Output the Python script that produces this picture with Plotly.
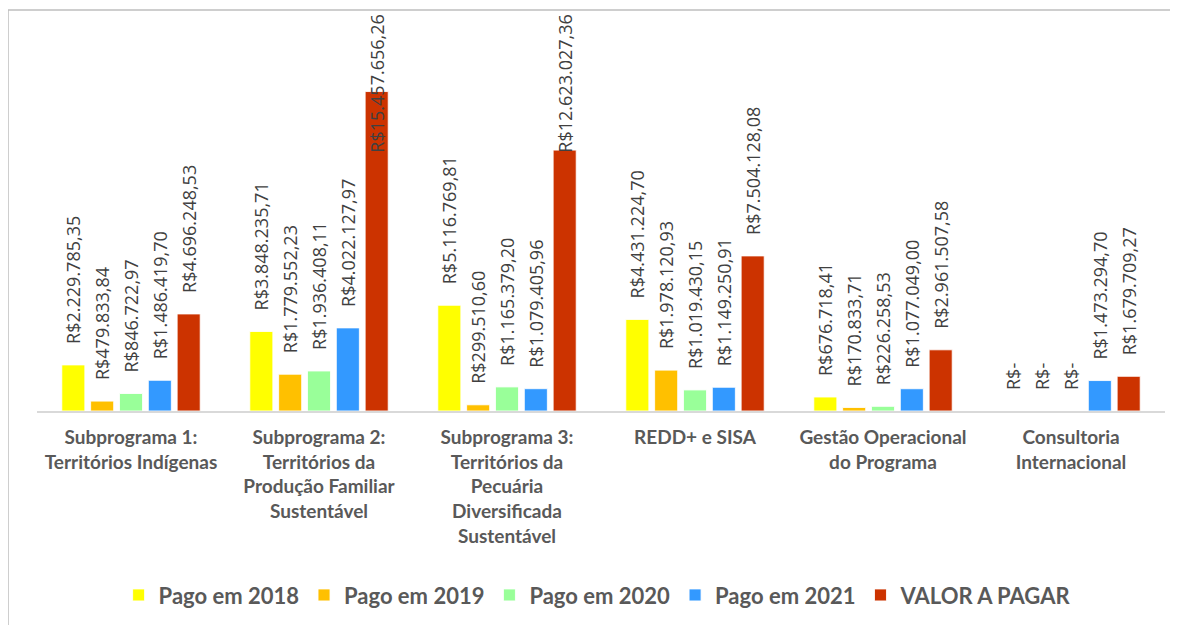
import plotly.graph_objects as go

# ── Data ─────────────────────────────────────────────────────────────────────
categories = [
    "Subprograma 1:<br>Territórios Indígenas",
    "Subprograma 2:<br>Territórios da<br>Produção Familiar<br>Sustentável",
    "Subprograma 3:<br>Territórios da<br>Pecuária<br>Diversificada<br>Sustentável",
    "REDD+ e SISA",
    "Gestão Operacional<br>do Programa",
    "Consultoria<br>Internacional",
]

pago_2018 = [2229785.35, 3848235.71, 5116769.81, 4431224.70, 676718.41, 0]
pago_2019 = [479833.84, 1779552.23, 299510.60, 1978120.93, 170833.71, 0]
pago_2020 = [846722.97, 1936408.11, 1165379.20, 1019430.15, 226258.53, 0]
pago_2021 = [1486419.70, 4022127.97, 1079405.96, 1149250.91, 1077049.00, 1473294.70]
valor_a_pagar = [4696248.53, 15457656.26, 12623027.36, 7504128.08, 2961507.58, 1679709.27]

series_names = ["Pago em 2018", "Pago em 2019", "Pago em 2020", "Pago em 2021", "VALOR A PAGAR"]
series_colors = ["#FFFF00", "#FFC000", "#99FF99", "#3399FF", "#CC3300"]

LABEL_COLOR = "#404040"
AXIS_TEXT = "#595959"
LABEL_FONT = dict(family="Open Sans", size=18, color=LABEL_COLOR)

# ── Layout constants ─────────────────────────────────────────────────────────
# the page body adds 8px on the left/top, so margins are shifted accordingly
W, H = 1178, 625
M_L, M_R, M_T, M_B = 29, 21, 31, 222
BARGAP, GROUPGAP = 0.233, 0.2
Y_MAX = 18e6
LABEL_CAP = 12e6  # labels above this can't fit over the bar: Excel clamps them to the top


def brl(v):
    """Excel-style accounting label in pt-BR."""
    if v == 0:
        return "R$-"
    s = f"{v:,.2f}".replace(",", "X").replace(".", ",").replace("X", ".")
    return "R$" + s


# ── Figure ───────────────────────────────────────────────────────────────────
fig = go.Figure()
all_series = [pago_2018, pago_2019, pago_2020, pago_2021, valor_a_pagar]
n_series = len(all_series)
cat_px = (W - M_L - M_R) / len(categories)
slot_px = cat_px * (1 - BARGAP) / n_series

annotations = []
for i, (name, color, vals) in enumerate(zip(series_names, series_colors, all_series)):
    # em space keeps the label clear of the bar top, like Excel's outside-end
    texts = ["" if v > LABEL_CAP else "\u2003" + brl(v) for v in vals]
    fig.add_bar(
        x=categories,
        y=vals,
        name=name,
        marker=dict(color=color, line=dict(color="rgba(255,255,255,0.85)", width=1)),
        text=texts,
        textposition="outside",
        textangle=-90,
        textfont=LABEL_FONT,
        cliponaxis=False,
        constraintext="none",
    )
    for cat, v in zip(categories, vals):
        if v > LABEL_CAP:
            annotations.append(
                dict(
                    x=cat,
                    y=1.07,
                    xref="x",
                    yref="paper",
                    text=brl(v),
                    textangle=-90,
                    showarrow=False,
                    yanchor="top",
                    xanchor="center",
                    xshift=(i - (n_series - 1) / 2) * slot_px,
                    font=LABEL_FONT,
                )
            )

fig.update_layout(
    width=W,
    height=H,
    barmode="group",
    bargap=BARGAP,
    bargroupgap=GROUPGAP,
    plot_bgcolor="white",
    paper_bgcolor="white",
    margin=dict(t=M_T, b=M_B, l=M_L, r=M_R),
    font=dict(family="Lato", color=AXIS_TEXT),
    xaxis=dict(
        showline=True,
        linecolor="#D9D9D9",
        linewidth=2,
        ticks="",
        showgrid=False,
        tickfont=dict(family="Lato", size=19, color=AXIS_TEXT, weight="bold"),
        ticklabelstandoff=8,
        automargin=False,
    ),
    yaxis=dict(visible=False, range=[0, Y_MAX]),
    showlegend=True,
    legend=dict(
        orientation="h",
        x=0.497,
        xanchor="center",
        y=-0.495,
        yanchor="middle",
        font=dict(family="Lato", size=22, color=AXIS_TEXT, weight="bold"),
        itemclick=False,
    ),
    annotations=annotations,
    shapes=[
        dict(
            type="rect",
            xref="paper",
            yref="paper",
            x0=-0.0257,
            x1=1.3,
            y0=-1.0,
            y1=1.078,
            line=dict(color="#BFBFBF", width=1.5),
            fillcolor="rgba(0,0,0,0)",
            layer="below",
        )
    ],
)

fig.write_html("out.html")
